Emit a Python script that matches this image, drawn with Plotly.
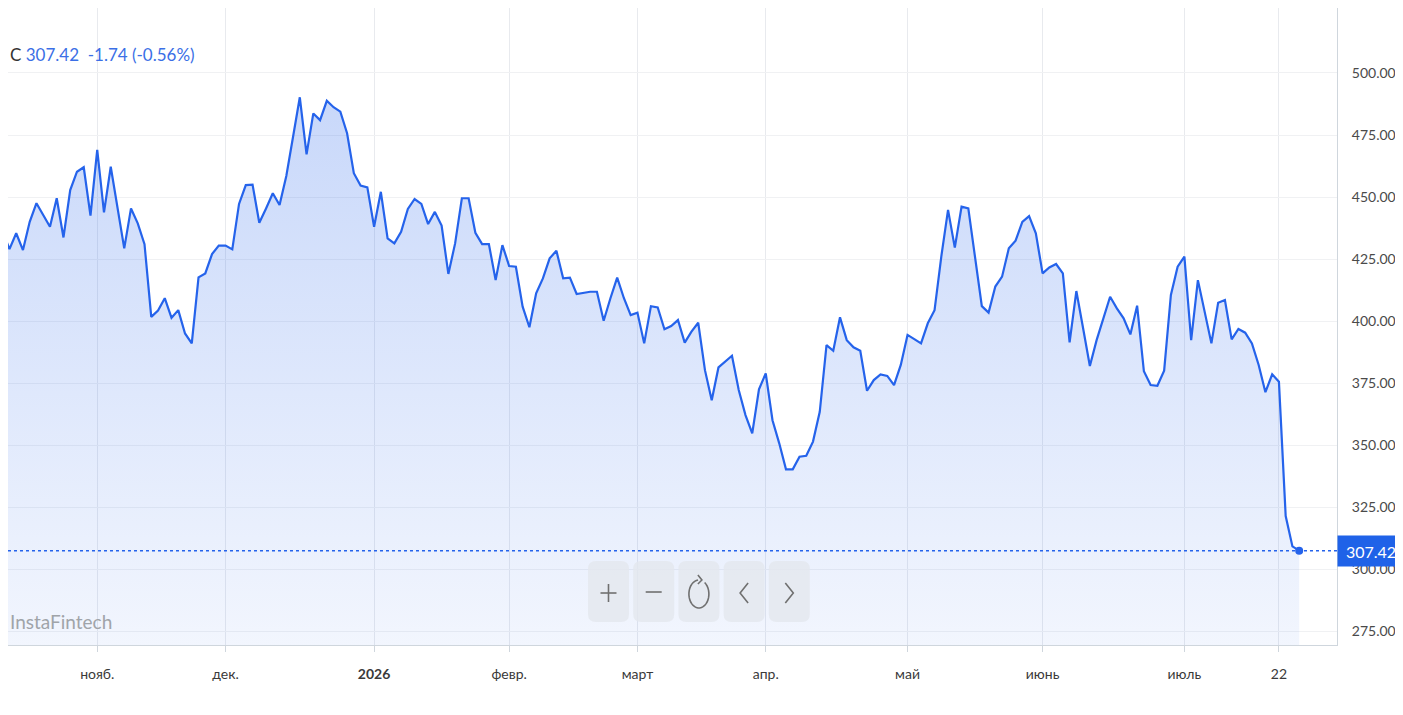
import math
import plotly.graph_objects as go

# daily closes (trading-day index)
close = [
    408.0, 436.0, 429.0, 435.4, 428.6, 440.0, 447.5, 442.7, 438.0, 449.5,
    433.7, 452.8, 460.2, 462.0, 442.5, 469.0, 443.8, 462.2, 446.0, 429.3,
    445.4, 439.4, 431.0, 401.7, 404.2, 409.2, 401.3, 404.4, 395.0, 391.0,
    417.6, 419.2, 427.0, 430.4, 430.4, 428.9, 447.2, 454.8, 455.0, 439.6,
    445.4, 451.5, 446.8, 458.5, 474.3, 490.2, 467.2, 483.7, 481.0, 488.8,
    486.2, 484.4, 475.7, 459.6, 454.6, 453.9, 438.0, 452.1, 433.3, 431.3,
    436.0, 445.2, 449.2, 447.2, 439.1, 444.0, 438.5, 419.0, 431.3, 449.5,
    449.5, 435.6, 431.0, 431.0, 416.5, 430.6, 422.2, 421.9, 405.8, 397.5,
    411.2, 417.2, 425.3, 428.3, 417.2, 417.5, 410.9, 411.4, 411.8, 411.8,
    400.1, 409.2, 417.5, 409.2, 402.4, 403.4, 391.0, 406.0, 405.5, 396.7,
    398.0, 400.4, 391.3, 395.7, 399.3, 380.2, 368.1, 381.3, 383.6, 386.0,
    372.2, 362.1, 354.7, 372.5, 378.9, 360.0, 350.7, 340.2, 340.2, 345.3,
    345.7, 351.4, 363.4, 390.3, 388.0, 401.5, 392.3, 389.4, 388.0, 371.9,
    376.2, 378.5, 377.9, 374.2, 382.3, 394.4, 392.7, 391.0, 399.1, 404.4,
    426.0, 444.8, 429.6, 446.1, 445.4, 426.0, 406.0, 403.4, 413.9, 417.9,
    429.3, 432.4, 440.0, 442.3, 435.4, 419.2, 421.6, 423.0, 419.2, 391.4,
    412.1, 397.1, 381.9, 392.3, 401.1, 409.8, 405.1, 401.1, 394.6, 406.2,
    379.8, 374.2, 373.9, 380.0, 410.5, 421.9, 426.0, 392.3, 416.5, 403.8,
    391.0, 407.4, 408.5, 392.6, 396.8, 395.3, 391.0, 382.3, 371.3, 378.5,
    375.5, 321.4, 309.16, 307.42,
]
day = list(range(-1, len(close) - 1))

tick_pos = [14, 33, 55, 75, 94, 113, 134, 154, 175, 189]
tick_labels = ["нояб.", "дек.", "<b>2026</b>", "февр.", "март", "апр.",
               "май", "июнь", "июль", "22"]
price_ticks = [275, 300, 325, 350, 375, 400, 425, 450, 475, 500]

last = close[-1]
change = close[-1] - close[-2]
change_pct = change / close[-2] * 100

# the page puts the figure 8px in from the corner
OFF = 8
W, H = 1403 - OFF, 715 - OFF
PX0, PX1, PY0, PY1 = 8, 1337, 8, 645  # plot area on screen
BLUE = "#2563eb"
ICON = "#707070"
FONT = "Lato"


def px(x, y):
    return (x - PX0) / (PX1 - PX0), 1 - (y - PY0) / (PY1 - PY0)


def path_of(points, closed=False):
    s = " ".join(("M" if i == 0 else "L") + "{:.5f},{:.5f}".format(*px(*p))
                 for i, p in enumerate(points))
    return s + (" Z" if closed else "")


def rounded_box(x0, y0, x1, y1, r):
    pts = [(x0 + r, y0), (x1 - r, y0), (x1, y0), (x1, y0 + r), (x1, y1 - r),
           (x1, y1), (x1 - r, y1), (x0 + r, y1), (x0, y1), (x0, y1 - r),
           (x0, y0 + r), (x0, y0), (x0 + r, y0)]
    p = [px(*q) for q in pts]
    f = lambda q: f"{q[0]:.5f},{q[1]:.5f}"
    return (f"M{f(p[0])} L{f(p[1])} Q{f(p[2])} {f(p[3])} L{f(p[4])} "
            f"Q{f(p[5])} {f(p[6])} L{f(p[7])} Q{f(p[8])} {f(p[9])} "
            f"L{f(p[10])} Q{f(p[11])} {f(p[12])} Z")


def stroke(points):
    return dict(type="path", xref="paper", yref="paper", path=path_of(points),
                line=dict(color=ICON, width=1.6))


fig = go.Figure()

fig.add_trace(go.Scatter(
    x=day, y=close, mode="lines",
    line=dict(color=BLUE, width=2.2),
    fill="tozeroy",
    fillgradient=dict(type="vertical", start=270, stop=490,
                      colorscale=[[0, "rgba(37,99,235,0.06)"],
                                  [1, "rgba(37,99,235,0.25)"]]),
    hoverinfo="skip", showlegend=False,
))
fig.add_trace(go.Scatter(
    x=[day[-1]], y=[last], mode="markers",
    marker=dict(color=BLUE, size=8), showlegend=False, hoverinfo="skip",
))

shapes = [dict(type="line", xref="paper", yref="y", x0=0, x1=1,
               y0=last, y1=last, line=dict(color=BLUE, width=1.5, dash="dot"))]

# zoom / reset / scroll buttons
centers = []
for i in range(5):
    bx0 = 588 + i * 45.2
    shapes.append(dict(type="path", xref="paper", yref="paper",
                       path=rounded_box(bx0, 561, bx0 + 41, 622, 8),
                       fillcolor="rgba(228,231,238,0.8)", line=dict(width=0)))
    centers.append((bx0 + 20.5, 593))

cx, cy = centers[0]
shapes += [stroke([(cx - 8, cy), (cx + 8, cy)]),
           stroke([(cx, cy - 9), (cx, cy + 9)])]
cx, cy = centers[1]
shapes.append(stroke([(cx - 8, cy - 1), (cx + 8, cy - 1)]))
cx, cy = centers[2]
arc = [(cx + 10 * math.cos(math.radians(a)), cy + 1 - 14 * math.sin(math.radians(a)))
       for a in range(95, 425, 10)]
shapes.append(stroke(arc))
tip = (cx + 3, cy - 13)
shapes.append(stroke([(tip[0] - 4, tip[1] - 5), tip, (tip[0] - 4, tip[1] + 4)]))
cx, cy = centers[3]
shapes.append(stroke([(cx + 4, cy - 10), (cx - 4, cy), (cx + 4, cy + 10)]))
cx, cy = centers[4]
shapes.append(stroke([(cx - 4, cy - 10), (cx + 4, cy), (cx - 4, cy + 10)]))

annotations = [
    dict(xref="paper", yref="paper", x=0, y=px(0, 54)[1],
         xanchor="left", yanchor="middle", showarrow=False,
         text=(f"<span style='color:#333333'>C</span> {last:.2f}  "
               f"{change:.2f} ({change_pct:.2f}%)"),
         font=dict(family=FONT, size=17, color="#3b6fe6")),
    dict(xref="paper", yref="paper", x=0, y=px(0, 621)[1],
         xanchor="left", yanchor="middle", showarrow=False,
         text="InstaFintech", font=dict(family=FONT, size=19, color="#a0a4a9")),
    dict(xref="paper", yref="y", x=1, y=last, xanchor="left", yanchor="middle",
         showarrow=False, text=f"{last:.2f}", width=58, height=22, borderpad=4,
         bgcolor="#1f62e8", font=dict(family=FONT, size=16, color="white")),
]

fig.update_layout(
    width=W, height=H,
    margin=dict(l=0, r=W - (PX1 - OFF), t=0, b=H - (PY1 - OFF)),
    paper_bgcolor="white", plot_bgcolor="white",
    font=dict(family=FONT, size=14, color="#3a3a3a"),
    shapes=shapes, annotations=annotations,
    xaxis=dict(range=[0.785, 197.6], tickvals=tick_pos, ticktext=tick_labels,
               showgrid=True, gridcolor="#e8eaee", zeroline=False,
               showline=True, linecolor="#cfd6dd", ticks="outside",
               ticklen=6, tickcolor="#cfd6dd", ticklabelstandoff=10,
               tickfont=dict(size=14, color="#3a3a3a"), fixedrange=True),
    yaxis=dict(side="right", range=[269.4, 526.2], tickvals=price_ticks,
               ticktext=[f"{v:.2f}" for v in price_ticks],
               showgrid=True, gridcolor="#f0f1f3", zeroline=False,
               showline=True, linecolor="#cfd6dd", ticks="",
               ticklabelstandoff=11,
               tickfont=dict(size=14, color="#4a4a4a"), fixedrange=True),
)

fig.write_html("out.html")
